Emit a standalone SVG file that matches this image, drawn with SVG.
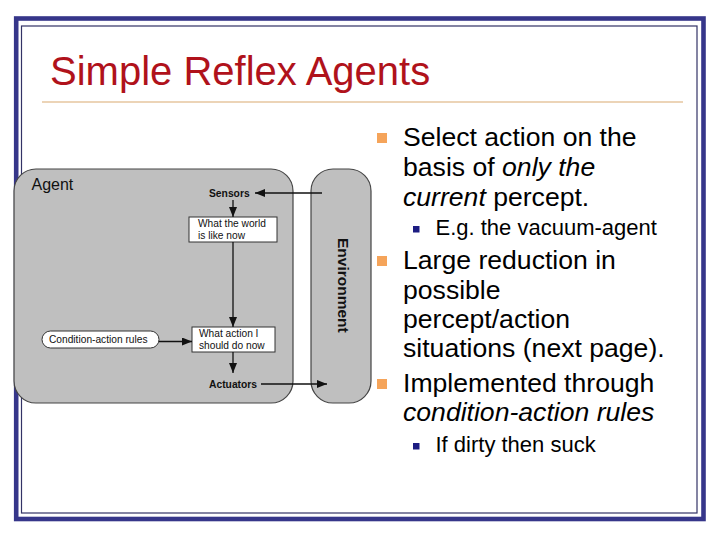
<svg xmlns="http://www.w3.org/2000/svg" width="720" height="540" viewBox="0 0 720 540">
<defs>
<marker id="ah" viewBox="0 0 10 8" refX="10" refY="4" markerWidth="10" markerHeight="8" markerUnits="userSpaceOnUse" orient="auto">
<path d="M0,0 L10,4 L0,8 z" fill="#111"/>
</marker>
<style>
.f{font-family:"Liberation Sans",Arial,sans-serif}
.big{font-size:26.6px;fill:#000}
.sub{font-size:22px;fill:#000}
.small{font-size:10.2px;fill:#111}
.bold{font-size:10.3px;font-weight:bold;fill:#111}
.panel{fill:#bfbfbf;stroke:#444;stroke-width:1.2}
.box{fill:#fff;stroke:#333;stroke-width:1}
.conn{stroke:#111;stroke-width:1.3;fill:none;marker-end:url(#ah)}
.ob{fill:#f5a45a}
.nb{fill:#1c1c82}
</style>
</defs>
<rect width="720" height="540" fill="#fff"/>
<rect x="16.2" y="18.5" width="687.3" height="500.5" fill="none" stroke="#36368a" stroke-width="4.6"/>
<rect x="21.5" y="26" width="675.5" height="487" fill="none" stroke="#333366" stroke-width="1.2"/>
<text class="f" x="50" y="85" font-size="40" fill="#b0121b">Simple Reflex Agents</text>
<line x1="42" y1="102" x2="683" y2="102" stroke="#d9aa70" stroke-width="1.2"/>

<g id="agent">
<rect class="panel" x="14" y="169" width="279" height="234" rx="22" ry="22"/>
<text class="f" x="31.5" y="190" font-size="16" fill="#111">Agent</text>
</g>
<g id="environment">
<rect class="panel" x="311" y="169" width="60" height="234" rx="22" ry="22"/>
<text class="f" transform="translate(338,238) rotate(90)" font-size="15.5" font-weight="bold" fill="#111">Environment</text>
</g>
<g id="sensors">
<text class="f bold" x="209" y="196.5">Sensors</text>
</g>
<g id="world">
<rect class="box" x="189" y="217" width="88" height="25"/>
<text class="f small" x="198" y="227">What the world</text>
<text class="f small" x="198" y="238.5">is like now</text>
</g>
<g id="rules">
<rect class="box" x="42" y="331" width="117" height="17" rx="8.5" ry="8.5"/>
<text class="f small" x="49" y="343.3">Condition-action rules</text>
</g>
<g id="action">
<rect class="box" x="192" y="327" width="83" height="25"/>
<text class="f small" x="199" y="337">What action I</text>
<text class="f small" x="199" y="348.5">should do now</text>
</g>
<g id="actuators">
<text class="f bold" x="209" y="387.5">Actuators</text>
</g>
<g id="connectors">
<line class="conn" x1="322" y1="193" x2="255" y2="193"/>
<line class="conn" x1="233" y1="200" x2="233" y2="217"/>
<line class="conn" x1="233" y1="242" x2="233" y2="327"/>
<line class="conn" x1="159" y1="341.5" x2="192" y2="341.5"/>
<line class="conn" x1="233" y1="352" x2="233" y2="373"/>
<line class="conn" x1="261" y1="384" x2="327" y2="384"/>
</g>

<g id="bullets">
<rect class="ob" x="377" y="133" width="10" height="10"/>
<text class="f big" x="403" y="146">Select action on the</text>
<text class="f big" x="403" y="176">basis of <tspan font-style="italic">only the</tspan></text>
<text class="f big" x="403" y="205.5"><tspan font-style="italic">current</tspan> percept.</text>
<rect class="nb" x="413" y="226" width="6.5" height="6.5"/>
<text class="f sub" x="435.5" y="235">E.g. the vacuum-agent</text>
<rect class="ob" x="377" y="256" width="10" height="10"/>
<text class="f big" x="403" y="269">Large reduction in</text>
<text class="f big" x="403" y="298.5">possible</text>
<text class="f big" x="403" y="327.5">percept/action</text>
<text class="f big" x="403" y="356.5">situations (next page).</text>
<rect class="ob" x="377" y="379" width="10" height="10"/>
<text class="f big" x="403" y="392">Implemented through</text>
<text class="f big" x="403" y="421" font-style="italic">condition-action rules</text>
<rect class="nb" x="413" y="443" width="6.5" height="6.5"/>
<text class="f sub" x="435.5" y="452">If dirty then suck</text>
</g>
</svg>
